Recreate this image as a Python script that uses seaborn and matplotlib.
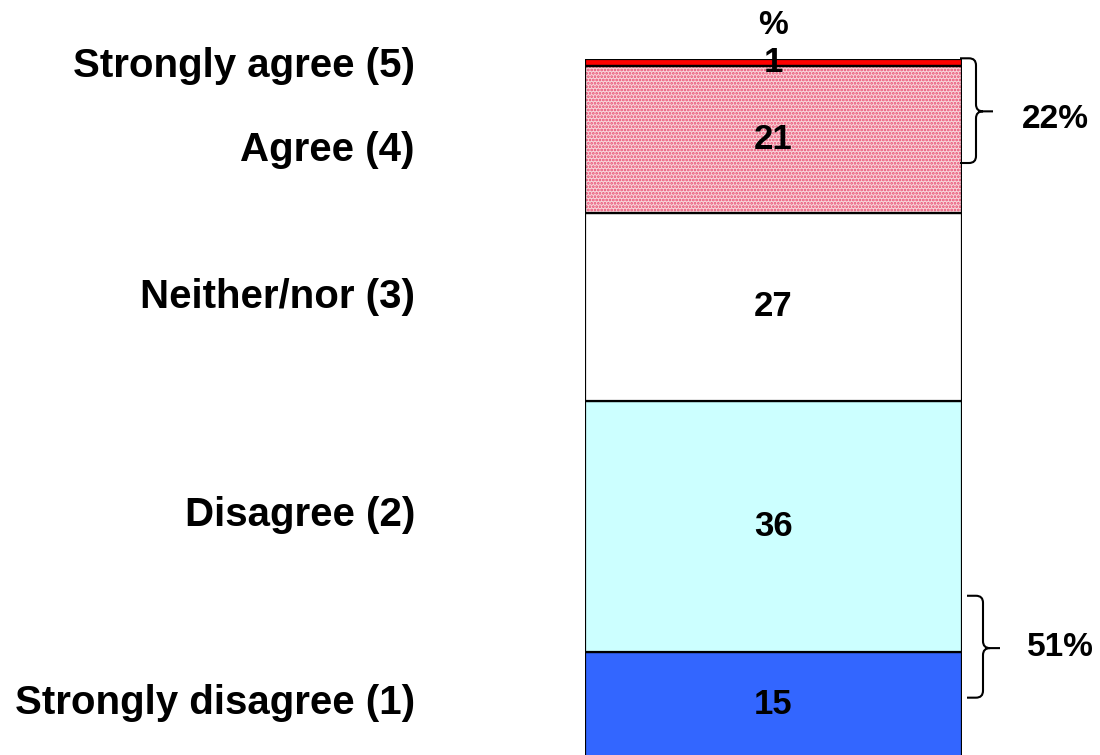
import matplotlib
matplotlib.use("Agg")
import matplotlib.pyplot as plt
import seaborn as sns
from matplotlib.path import Path
from matplotlib.patches import PathPatch, Rectangle
from matplotlib.transforms import IdentityTransform

# Survey response shares (%), stacked bottom to top
categories = ["Strongly disagree (1)", "Disagree (2)", "Neither/nor (3)",
              "Agree (4)", "Strongly agree (5)"]
values = [15, 36, 27, 21, 1]
colors = ["#3366FF", "#CCFFFF", "#FFFFFF", "#F8D6DB", "#FF0000"]
net_labels = ["51%", "22%"]
unit_label = "%"

# Layout (pixels from top of the figure) for the side labels
label_y_px = [703, 515, 297, 150, 66]
# Brace extents in data units: (top, bottom, tip)
braces = [(23.1, 8.5, 15.6), (100.1, 85.1, 92.5)]
brace_x_px = [(967, 983, 1000), (960, 976, 993)]
net_pos_px = [(1060, 648), (1055, 119)]

sns.set_theme(style="white")
plt.rcParams["font.family"] = ["Liberation Sans", "DejaVu Sans"]
plt.rcParams["hatch.linewidth"] = 1.3

W, H = 1100, 755
fig = plt.figure(figsize=(W / 100, H / 100), dpi=100)
fig.patch.set_facecolor("white")
ax = fig.add_axes([585 / W, -2 / H, 377 / W, 698 / H])

bottom = 0
for cat, val, col in zip(categories, values, colors):
    is_agree = cat.startswith("Agree")
    sns.barplot(x=["All"], y=[val], bottom=bottom, color=col, saturation=1,
                width=1.0, edgecolor="#E8486C" if is_agree else "black",
                linewidth=0 if is_agree else 1.6,
                hatch="....." if is_agree else None, ax=ax)
    cont = ax.containers[-1]
    if is_agree:
        p = cont.patches[0]
        ax.add_patch(Rectangle(p.get_xy(), p.get_width(), p.get_height(),
                               fill=False, edgecolor="black", linewidth=1.6,
                               zorder=p.get_zorder() + 0.1))
    ax.bar_label(cont, labels=[str(val)], label_type="center",
                 fontsize=25, fontweight="bold", color="black")
    bottom += val

ax.set_xlim(-0.5, 0.5)
ax.set_ylim(0, 100)
ax.axis("off")

# Category labels on the left
for cat, ypx in zip(categories, label_y_px):
    fig.text(415 / W, 1 - ypx / H, cat, ha="right", va="center",
             fontsize=29, fontweight="bold", color="black")

fig.text(773 / W, 1 - 26 / H, unit_label, ha="center", va="center",
         fontsize=24, fontweight="bold", color="black")

# Curly braces with net totals
fig.canvas.draw()
def data_to_px(v):
    return ax.transData.transform((0, v))[1]

for (top, bot, tip), (x0, xv, xt), txt, (tx, ty) in zip(braces, brace_x_px,
                                                       net_labels, net_pos_px):
    y1, y2, ym = data_to_px(top), data_to_px(bot), data_to_px(tip)
    r = 7
    verts = [(x0, y1), (xv - r, y1), (xv, y1), (xv, y1 - r),
             (xv, ym + r), (xv, ym), (xv + r, ym), (xt, ym),
             (xv + r, ym), (xv, ym), (xv, ym - r),
             (xv, y2 + r), (xv, y2), (xv - r, y2), (x0, y2)]
    codes = [Path.MOVETO, Path.LINETO, Path.CURVE3, Path.CURVE3,
             Path.LINETO, Path.CURVE3, Path.CURVE3, Path.LINETO,
             Path.MOVETO, Path.CURVE3, Path.CURVE3,
             Path.LINETO, Path.CURVE3, Path.CURVE3, Path.LINETO]
    fig.patches.append(PathPatch(Path(verts, codes), transform=IdentityTransform(),
                                 fill=False, edgecolor="black", linewidth=1.5,
                                 figure=fig))
    fig.text(tx / W, 1 - ty / H, txt, ha="center", va="center",
             fontsize=24, fontweight="bold", color="black")

fig.savefig("out.png", dpi=100, facecolor="white")
